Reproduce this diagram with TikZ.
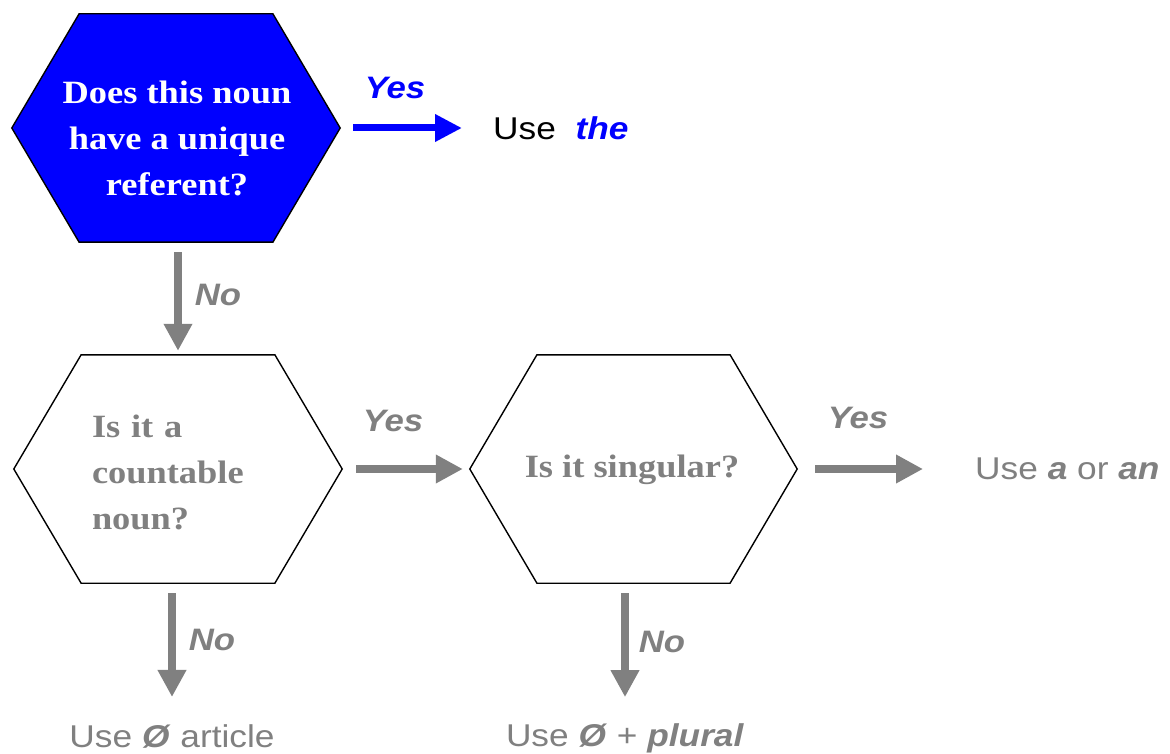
\documentclass[tikz,border=0pt]{standalone}
\usepackage{fontspec}
\setmainfont{Liberation Serif}[FakeStretch=1.12]
\newfontfamily\arialf{Liberation Sans}[FakeStretch=1.12]
\usetikzlibrary{arrows.meta,calc}
\definecolor{qgray}{RGB}{128,128,128}
\definecolor{qblue}{RGB}{0,0,255}
\newcommand\hexpath[1]{(#1.west) -- ($(#1.north west)!0.205!(#1.north east)$) -- ($(#1.north west)!0.795!(#1.north east)$) -- (#1.east) -- ($(#1.south west)!0.795!(#1.south east)$) -- ($(#1.south west)!0.205!(#1.south east)$) -- cycle}
\tikzset{
  hexbox/.style={rectangle,inner sep=0pt,minimum width=328pt,minimum height=228pt},
  qtext/.style={inner sep=0pt,font=\fontsize{32.5}{46}\selectfont\bfseries,align=center},
  lab/.style={inner sep=0pt,font=\arialf\fontsize{31}{36}\selectfont\bfseries\itshape,text=qgray},
  res/.style={inner sep=0pt,font=\arialf\fontsize{31.5}{36}\selectfont,text=qgray},
  garrow/.style={draw=qgray,line width=8pt,-{Triangle[length=27pt,width=27pt]}},
  barrow/.style={draw=qblue,line width=7pt,-{Triangle[length=27pt,width=26pt]}},
}
\begin{document}
\begin{tikzpicture}[x=1pt,y=-1pt]
\useasboundingbox[fill=white] (0,0) rectangle (1170,754);
% hexagons
\node[hexbox] (q1) at (176,128) {};
\node[hexbox] (q2) at (178,469) {};
\node[hexbox,minimum width=327pt] (q3) at (633.5,469) {};
\draw[fill=qblue,draw=black,line width=1.4pt,line join=miter] \hexpath{q1};
\draw[fill=white,draw=black,line width=1.4pt,line join=miter] \hexpath{q2};
\draw[fill=white,draw=black,line width=1.4pt,line join=miter] \hexpath{q3};
% question texts
\node[qtext,text=white] (q1t) at (177,138) {Does this noun\\have a unique\\referent?};
\node[qtext,text=qgray,align=left,text width=172pt] (q2t) at (178,472) {Is it a\\countable\\noun?};
\node[qtext,text=qgray] (q3t) at (632,470) {Is it singular?};
% results
\node[res,anchor=west,text=black] (t1) at (493,128) {Use\ \ \textcolor{qblue}{\bfseries\itshape the}};
\node[res,anchor=west] (t3) at (975,469) {Use \textbf{\itshape a} or \textbf{\itshape an}};
\node[res] (t2) at (172,736) {Use \textbf{\itshape Ø} article};
\node[res] (t4) at (625,738) {Use \textbf{\itshape Ø} + \textbf{\itshape plural}};
% labels
\node[lab,text=qblue] (y1) at (395,88) {Yes};
\node[lab] (n1) at (218,295) {No};
\node[lab] (y2) at (393,421) {Yes};
\node[lab] (y3) at (858,418) {Yes};
\node[lab] (n2) at (212,640) {No};
\node[lab] (n3) at (662,642) {No};
% connectors
\draw[barrow] ([xshift=13pt]q1.east) -- ([xshift=-31pt]t1.west);
\draw[garrow] ([yshift=-10pt]q2.north |- q1.south) -- ([yshift=4pt]q2.north);
\draw[garrow] ([xshift=14pt]q2.east) -- ([xshift=-7pt]q3.west);
\draw[garrow] ([xshift=18pt]q3.east) -- ([xshift=-52pt]t3.west);
\draw[garrow] ([yshift=-10pt]t2.north |- q2.south) -- ([yshift=27pt]t2.north);
\draw[garrow] ([yshift=-10pt]t4.north |- q3.south) -- ([yshift=26pt]t4.north);
\end{tikzpicture}
\end{document}
